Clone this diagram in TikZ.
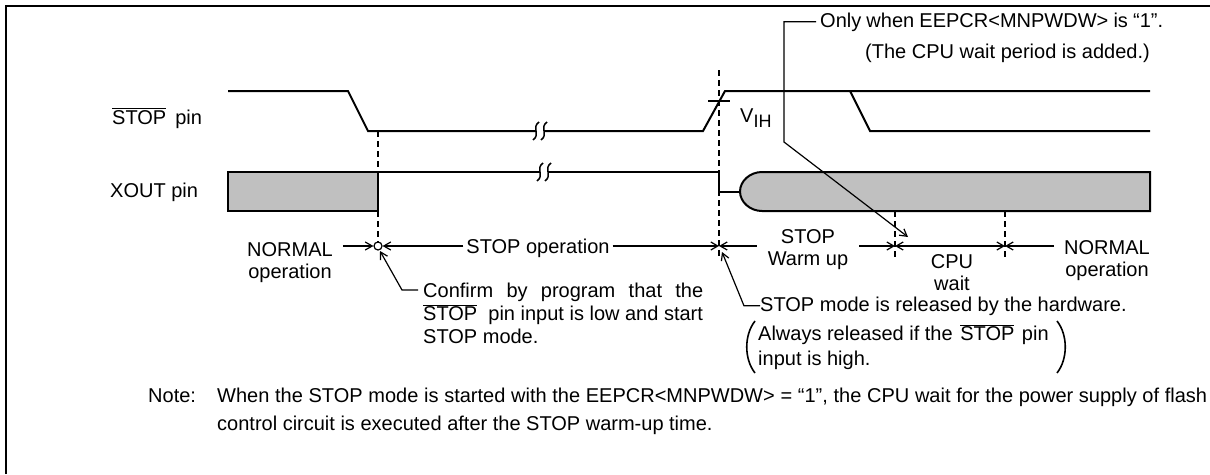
\documentclass[tikz,border=0pt]{standalone}
\usepackage{fontspec}
\setmainfont{Liberation Sans}
\usetikzlibrary{arrows.meta}
\definecolor{fillgray}{RGB}{192,192,192}
\newcommand{\nstop}{\smash{$\overline{\mbox{STOP}}$}}
\tikzset{
  sig/.style={line width=2pt},
  guide/.style={line width=1.3pt, dash pattern=on 6pt off 4pt},
  arr/.style={line width=1.2pt, -{Straight Barb[length=7pt,width=8pt]}},
  arrs/.style={line width=1.2pt, {Straight Barb[length=7pt,width=8pt]}-{Straight Barb[length=7pt,width=8pt]}},
  txt/.style={inner sep=0pt, font=\fontsize{20pt}{22pt}\selectfont},
  brk/.style={line width=1.5pt}
}
\begin{document}
\begin{tikzpicture}[x=1pt,y=-1pt]
  \useasboundingbox (0,0) rectangle (1210,474);
  \draw [line width=2pt] (6,474) -- (6,6) -- (1210,6);
  % signal names
  \node [txt,anchor=base west] (stoppin) at (112,124) {\nstop\hspace{9pt}pin};
  \node [txt,anchor=base west] (xoutpin) at (110,197) {XOUT pin};
  % STOP pin
  \draw [sig] (228,91) -- (348,91) -- (368,131) -- (536,131);
  \draw [sig] (544,131) -- (703,131) -- (725,91) -- (1150,91);
  \draw [sig] (850,91) -- (870,131) -- (1150,131);
  \draw [sig] (708,101) -- (730,101);
  \node [txt,anchor=base west] (vih) at (740,122) {V\raisebox{-5pt}{\fontsize{18pt}{20pt}\selectfont IH}};
  % XOUT pin
  \draw [sig,fill=fillgray] (228,172) rectangle (378,211);
  \draw [sig] (378,172) -- (540,172);
  \draw [sig] (548,172) -- (719,172) -- (719,192) -- (740,192);
  \draw [sig,fill=fillgray] (740,191.5) .. controls (740,181) and (750,172) .. (762,172)
    -- (1150,172) -- (1150,211) -- (762,211) .. controls (750,211) and (740,202) .. (740,191.5) -- cycle;
  % breaks
  \foreach \x/\y in {536/131, 544/131, 540/172, 548/172}
    \draw [brk] (\x+3,\y-9) .. controls (\x-5,\y-3) and (\x+5,\y+3) .. (\x-3,\y+9);
  % timing marks
  \node [circle,draw,line width=1.2pt,inner sep=0pt,minimum size=8pt] (o) at (378,246) {};
  \coordinate (r1) at (719,246);
  \coordinate (r2) at (895,246);
  \coordinate (r3) at (1005,246);
  \draw [guide] (378,131) -- (o.north);
  \draw [guide] (719,70) -- (719,258);
  \draw [guide] (895,211) -- (895,258);
  \draw [guide] (1005,211) -- (1005,258);
  % periods
  \node [txt,align=center,inner xsep=10pt] (normL) at (290,262.5) {NORMAL\\operation};
  \node [txt,anchor=base,inner xsep=3pt] (stopop) at (538,253) {STOP operation};
  \node [txt,align=center,inner xsep=11pt] (wu) at (808,250) {STOP\\Warm up};
  \node [txt,align=center] (cw) at (952,273) {CPU\\wait};
  \node [txt,align=center,inner xsep=10pt] (normR) at (1107,261) {NORMAL\\operation};
  \draw [arr] (normL.east |- o) -- (o.west);
  \draw [arr] (stopop.west |- o) -- (o.east);
  \draw [arr] (stopop.east |- o) -- (r1);
  \draw [arr] (wu.west |- r1) -- (r1);
  \draw [arr] (wu.east |- r2) -- (r2);
  \draw [arrs] (r2) -- (r3);
  \draw [arr] (normR.west |- r3) -- (r3);
  % notes on the release
  \node [txt,anchor=north west,align=left] (conf) at (423,282.4)
    {\makebox[280pt][s]{Confirm by program that the}\\[1pt]\nstop\ \ pin input is low and start\\[1pt]STOP mode.};
  \draw [arr] (418,290) -- (402,290) -- (380,251);
  \node [txt,anchor=base west] (hw) at (760,311) {STOP mode is released by the hardware.};
  \draw [arr] (hw.west) -- ++(-16,0) -- (722,252);
  \node [txt,anchor=north west,align=left] (hwnote) at (758,325.4)
    {Always released if the\hspace{2pt} \nstop\ \hspace{2pt}pin\\[3pt]input is high.};
  \draw [line width=1.6pt] (755,321) .. controls (744,335) and (744,359) .. (755,373);
  \draw [line width=1.6pt] (1057,321) .. controls (1068,335) and (1068,359) .. (1057,373);
  \node [txt,anchor=base west,inner xsep=4pt] (only) at (816,27) {\makebox[343pt][s]{Only when EEPCR<MNPWDW> is “1”.}};
  \node [txt,anchor=base east] (added) at (1150,58) {(The CPU wait period is added.)};
  \draw [arr] (only.west) -- ++(-32,0) -- (784,142) -- (908,237);
  % note
  \node [txt,anchor=base west] (note) at (148,402) {Note:};
  \node [txt,anchor=base west] (note1) at (217,402)
    {\makebox[990pt][s]{When the STOP mode is started with the EEPCR<MNPWDW> = “1”, the CPU wait for the power supply of flash}};
  \node [txt,anchor=base west] (note2) at (217,430) {control circuit is executed after the STOP warm-up time.};
\end{tikzpicture}
\end{document}
